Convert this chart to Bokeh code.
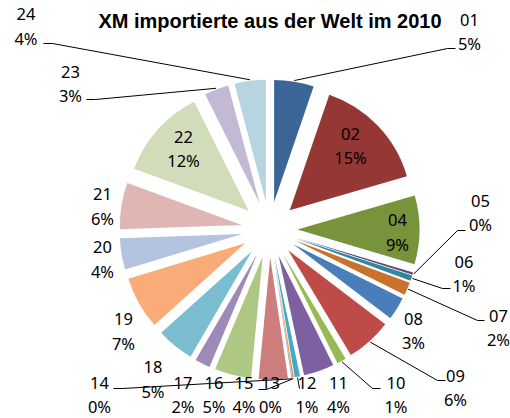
import numpy as np
from bokeh.plotting import figure
from bokeh.models import ColumnDataSource, Range1d
from bokeh.embed import file_html
from bokeh.resources import INLINE
from bokeh.core.properties import value

# ---------------- data ----------------
title = "XM importierte aus der Welt im 2010"
categories = ["01", "02", "04", "05", "06", "07", "08", "09", "10", "11", "12",
              "13", "14", "15", "16", "17", "18", "19", "20", "21", "22", "23", "24"]
values = [5.2, 15.1, 9.0, 0.3, 0.7, 1.7, 3.0, 6.0, 1.2, 4.0, 0.7,
          0.2, 0.1, 3.8, 4.8, 2.0, 4.9, 6.9, 4.1, 6.1, 11.9, 3.2, 4.1]
colors = ["#3C6597", "#953735", "#77933C", "#604A7B", "#31859C", "#C8722E",
          "#4A7EBB", "#BE4B48", "#98B954", "#7D60A0", "#46AAC5", "#F79646",
          "#7BA0CD", "#CD7D7B", "#AFC784", "#9E8AB6", "#7ABCD0", "#F9AB78",
          "#B3C3E0", "#E0B6B5", "#D0DCBA", "#C4B9D4", "#B6D5E1"]

# ---------------- layout ----------------
W, H = 510, 418
CX, CY = 269, H - 229      # pie centre (data units = pixels)
R = 122                    # slice radius
D = 28                     # explosion distance
LEAD_R = 151               # where leader lines start
LINE_GAP = 24              # distance between the two lines of a label

# label layout: x, y (image coords) of the category line; the percent line sits below
label_layout = {
    "01": (469, 19), "02": (350, 133), "04": (397, 219.5), "05": (480, 200),
    "06": (463.5, 261), "07": (498, 315), "08": (413, 318), "09": (455, 375),
    "10": (395.5, 382), "11": (338, 382), "12": (306.5, 382), "13": (270, 382),
    "14": (99, 382), "15": (243.5, 382), "16": (213.5, 382), "17": (182.5, 382),
    "18": (152.5, 366.5), "19": (123, 318.5), "20": (102, 246.5), "21": (102, 193.5),
    "22": (183, 136), "23": (70, 71), "24": (25.5, 13.5),
}
# leader line path after its start on the slice (image coords)
leader_layout = {
    "01": [(447, 48), (455, 48)], "05": [(457, 230), (465, 230)],
    "06": [(442, 288), (450, 288)], "07": [(477, 320), (484, 320)],
    "09": [(437, 380), (445, 380)], "10": [(372, 388), (380, 388)],
    "12": [(299, 388)], "13": [(266, 389), (258, 389)],
    "14": [(122, 388), (113, 388)], "23": [(95, 99), (86, 99)],
    "24": [(52, 43), (43, 43)],
}

# ---------------- geometry from data ----------------
vals = np.array(values, dtype=float)
total = vals.sum()
frac = vals / total
cum_end = np.cumsum(frac)
cum_start = cum_end - frac
mid = (cum_start + cum_end) / 2
theta_mid = 2 * np.pi * mid                     # clockwise from 12 o'clock
start_angle = np.pi / 2 - 2 * np.pi * cum_end
end_angle = np.pi / 2 - 2 * np.pi * cum_start
wx = CX + D * np.sin(theta_mid)
wy = CY + D * np.cos(theta_mid)
pct = [f"{int(round(f * 100))}%" for f in frac]

p = figure(width=W, height=H, x_range=Range1d(0, W), y_range=Range1d(0, H),
           output_backend="svg", toolbar_location=None, min_border=0,
           x_axis_location=None, y_axis_location=None)
p.grid.visible = False
p.outline_line_color = None
p.background_fill_color = "white"
p.border_fill_color = "white"

wsrc = ColumnDataSource(dict(x=wx, y=wy, start=start_angle, end=end_angle, color=colors))
p.wedge(x="x", y="y", radius=R, start_angle="start", end_angle="end",
        direction="anticlock", fill_color="color", line_color=None, source=wsrc)

# leader lines
lx, ly = [], []
for i, c in enumerate(categories):
    if c in leader_layout:
        xs = [CX + LEAD_R * np.sin(theta_mid[i])]
        ys = [CY + LEAD_R * np.cos(theta_mid[i])]
        for (px, py) in leader_layout[c]:
            xs.append(px)
            ys.append(H - py)
        lx.append(xs)
        ly.append(ys)
p.multi_line(xs=lx, ys=ly, line_color="black", line_width=1)

# labels
tx, ty, tt = [], [], []
for i, c in enumerate(categories):
    x0, y0 = label_layout[c]
    tx += [x0, x0]
    ty += [H - y0, H - y0 - LINE_GAP]
    tt += [c, pct[i]]
tsrc = ColumnDataSource(dict(x=tx, y=ty, text=tt))
p.text(x="x", y="y", text="text", source=tsrc, text_align="center",
       text_baseline="middle", text_font=value("Noto Sans"),
       text_font_size="16.5px", text_color="black")

# title
p.text(x=[269.5], y=[H - 20.5], text=[title], text_align="center",
       text_baseline="middle", text_font=value("Liberation Sans"),
       text_font_style="bold", text_font_size="20px", text_color="black")

open("out.html", "w").write(file_html(p, INLINE))
